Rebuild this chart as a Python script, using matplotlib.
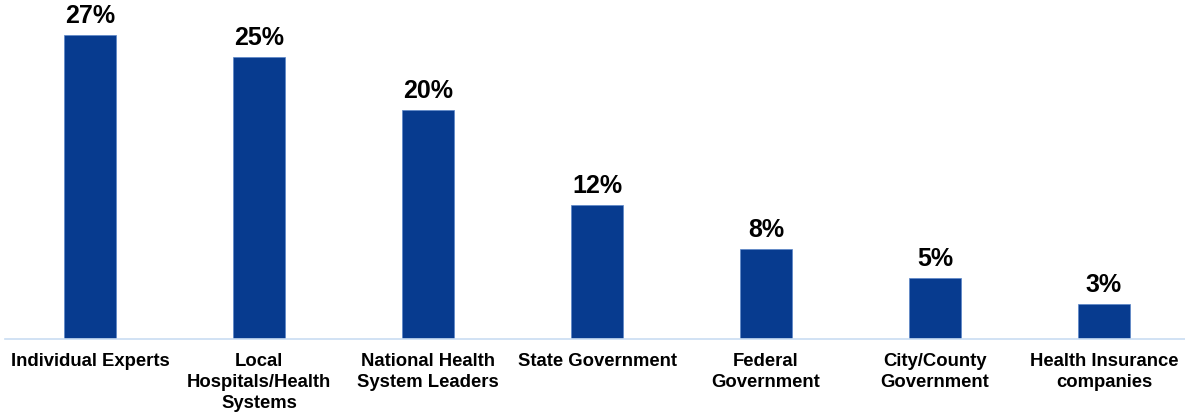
import matplotlib.pyplot as plt

categories = ['Individual Experts',
              'Local\nHospitals/Health\nSystems',
              'National Health\nSystem Leaders',
              'State Government',
              'Federal\nGovernment',
              'City/County\nGovernment',
              'Health Insurance\ncompanies']
values = [27.0, 25.1, 20.4, 11.9, 8.0, 5.45, 3.1]
labels = ['27%', '25%', '20%', '12%', '8%', '5%', '3%']

plt.rcParams['font.family'] = ['Liberation Sans', 'DejaVu Sans']

fig = plt.figure(figsize=(11.85, 4.16), dpi=100)
ax = fig.add_axes([5 / 1185, 77 / 416, 1180 / 1185, 339 / 416])

x = range(len(categories))
ax.bar(x, values, width=0.31, color='#073B8F', edgecolor='#5A86C8', linewidth=0.5)

for i, v, lab in zip(x, values, labels):
    ax.annotate(lab, (i, v), xytext=(0, 5), textcoords='offset points',
                ha='center', va='bottom', fontsize=18, fontweight='bold')

ax.set_xlim(-0.503, 6.479)
ax.set_ylim(0, 339 / (303.6 / 27))
ax.set_xticks(list(x))
ax.set_xticklabels(categories, fontsize=13.3, fontweight='bold', linespacing=1.33)
ax.tick_params(axis='x', length=0, pad=10)
ax.set_yticks([])
for s in ['top', 'right', 'left']:
    ax.spines[s].set_visible(False)
ax.spines['bottom'].set_color('#C9DDF2')
ax.spines['bottom'].set_linewidth(1.2)

fig.savefig('out.png', dpi=100)
